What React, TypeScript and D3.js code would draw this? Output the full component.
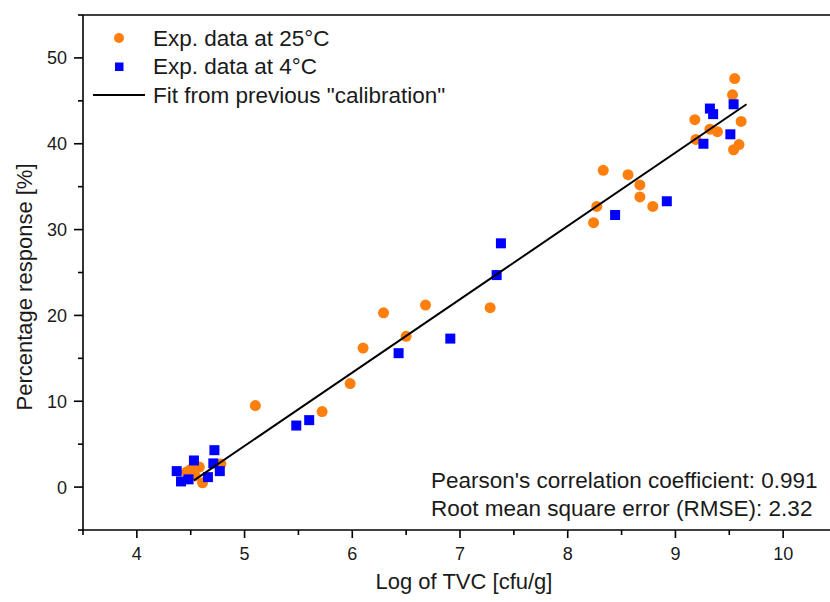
import React from "react";
import * as d3 from "d3";

const orangeX = [4.46, 4.5, 4.54, 4.58, 4.61, 4.78, 5.1, 5.72, 5.98, 6.1, 6.29, 6.5, 6.68, 7.28, 8.24, 8.27, 8.33, 8.56, 8.67, 8.67, 8.79, 9.18, 9.19, 9.32, 9.39, 9.53, 9.55, 9.54, 9.59, 9.61];
const orangeY = [1.75, 2.06, 1.3, 2.33, 0.5, 2.7, 9.5, 8.8, 12.06, 16.2, 20.3, 17.56, 21.2, 20.9, 30.8, 32.7, 36.9, 36.4, 35.2, 33.8, 32.7, 42.8, 40.5, 41.7, 41.4, 45.7, 47.6, 39.3, 39.9, 42.6];
const blueX = [4.37, 4.41, 4.48, 4.53, 4.66, 4.71, 4.72, 4.77, 5.48, 5.6, 6.43, 6.91, 7.34, 7.38, 8.44, 8.92, 9.26, 9.32, 9.35, 9.51, 9.54];
const blueY = [1.86, 0.66, 0.9, 3.1, 1.16, 2.76, 4.3, 1.86, 7.17, 7.8, 15.6, 17.3, 24.7, 28.4, 31.7, 33.3, 40.0, 44.1, 43.45, 41.1, 44.6];
const fitX = [4.53, 9.66];
const fitY = [0.78, 44.6];
const xTicks = [4, 5, 6, 7, 8, 9, 10];
const yTicks = [0, 10, 20, 30, 40, 50];
const legendLabels = ["Exp. data at 25°C", "Exp. data at 4°C", 'Fit from previous "calibration"'];
const statsLines = ["Pearson's correlation coefficient: 0.991", "Root mean square error (RMSE): 2.32"];

const W = 830;
const H = 602;
const FONT = "Liberation Sans, Arial, sans-serif";
const ORANGE = "#FF7F0E";
const BLUE = "#0000FF";
const TXT = "#1a1a1a";

export default function App() {
  const x = d3.scaleLinear().domain([3.5, 10.5]).range([83, 837]);
  const y = d3.scaleLinear().domain([-5, 55]).range([530, 15]);
  const xMinor = d3.range(3.5, 10.51, 0.5).filter((v) => Math.abs(v - Math.round(v)) > 0.01);
  const yMinor = d3.range(-5, 55.1, 10);
  const line = d3
    .line<number>()
    .x((_, i) => x(fitX[i]))
    .y((_, i) => y(fitY[i]));
  const sq = 10;
  return (
    <svg width={W} height={H} style={{ position: "absolute", left: 0, top: 0, background: "#fff" }} fontFamily={FONT}>
      <rect x={0} y={0} width={W} height={H} fill="#fff" />
      {/* frame */}
      <line x1={x(3.5)} x2={W} y1={y(55)} y2={y(55)} stroke="#000" strokeWidth={1.6} />
      <line x1={x(3.5)} x2={x(3.5)} y1={y(55)} y2={y(-5)} stroke="#000" strokeWidth={1.6} />
      <line x1={x(3.5)} x2={W} y1={y(-5)} y2={y(-5)} stroke="#000" strokeWidth={1.6} />
      {/* x ticks */}
      {xTicks.map((t) => (
        <g key={"xt" + t}>
          <line x1={x(t)} x2={x(t)} y1={y(-5)} y2={y(-5) + 8} stroke="#000" strokeWidth={1.6} />
          <text x={x(t)} y={560} fontSize={18} textAnchor="middle" fill={TXT}>
            {t}
          </text>
        </g>
      ))}
      {xMinor.map((t) => (
        <line key={"xm" + t} x1={x(t)} x2={x(t)} y1={y(-5)} y2={y(-5) + 5} stroke="#000" strokeWidth={1.6} />
      ))}
      {/* y ticks */}
      {yTicks.map((t) => (
        <g key={"yt" + t}>
          <line x1={x(3.5) - 9} x2={x(3.5)} y1={y(t)} y2={y(t)} stroke="#000" strokeWidth={1.6} />
          <text x={67} y={y(t) + 6.5} fontSize={18} textAnchor="end" fill={TXT}>
            {t}
          </text>
        </g>
      ))}
      {yMinor.map((t) => (
        <line key={"ym" + t} x1={x(3.5) - 5} x2={x(3.5)} y1={y(t)} y2={y(t)} stroke="#000" strokeWidth={1.6} />
      ))}
      {/* axis titles */}
      <text x={464} y={589} fontSize={22} textAnchor="middle" fill={TXT}>
        Log of TVC [cfu/g]
      </text>
      <text transform={`translate(32,287) rotate(-90)`} fontSize={22} textAnchor="middle" fill={TXT}>
        Percentage response [%]
      </text>
      {/* data */}
      {orangeX.map((v, i) => (
        <circle key={"o" + i} cx={x(v)} cy={y(orangeY[i])} r={5.5} fill={ORANGE} />
      ))}
      {blueX.map((v, i) => (
        <rect key={"b" + i} x={x(v) - sq / 2} y={y(blueY[i]) - sq / 2} width={sq} height={sq} fill={BLUE} />
      ))}
      <path d={line(fitX) || ""} fill="none" stroke="#000" strokeWidth={2} />
      {/* legend */}
      <circle cx={119} cy={38} r={5} fill={ORANGE} />
      <text x={153} y={45.5} fontSize={22.5} fill={TXT}>
        {legendLabels[0]}
      </text>
      <rect x={115} y={62.5} width={8.5} height={8.5} fill={BLUE} />
      <text x={153} y={74} fontSize={22.5} fill={TXT}>
        {legendLabels[1]}
      </text>
      <line x1={93} x2={145} y1={95} y2={95} stroke="#000" strokeWidth={2} />
      <text x={153} y={102.5} fontSize={22.5} fill={TXT}>
        {legendLabels[2]}
      </text>
      {/* stats */}
      {statsLines.map((s, i) => (
        <text key={"s" + i} x={431} y={487.5 + i * 28.5} fontSize={22.5} fill={TXT}>
          {s}
        </text>
      ))}
    </svg>
  );
}
